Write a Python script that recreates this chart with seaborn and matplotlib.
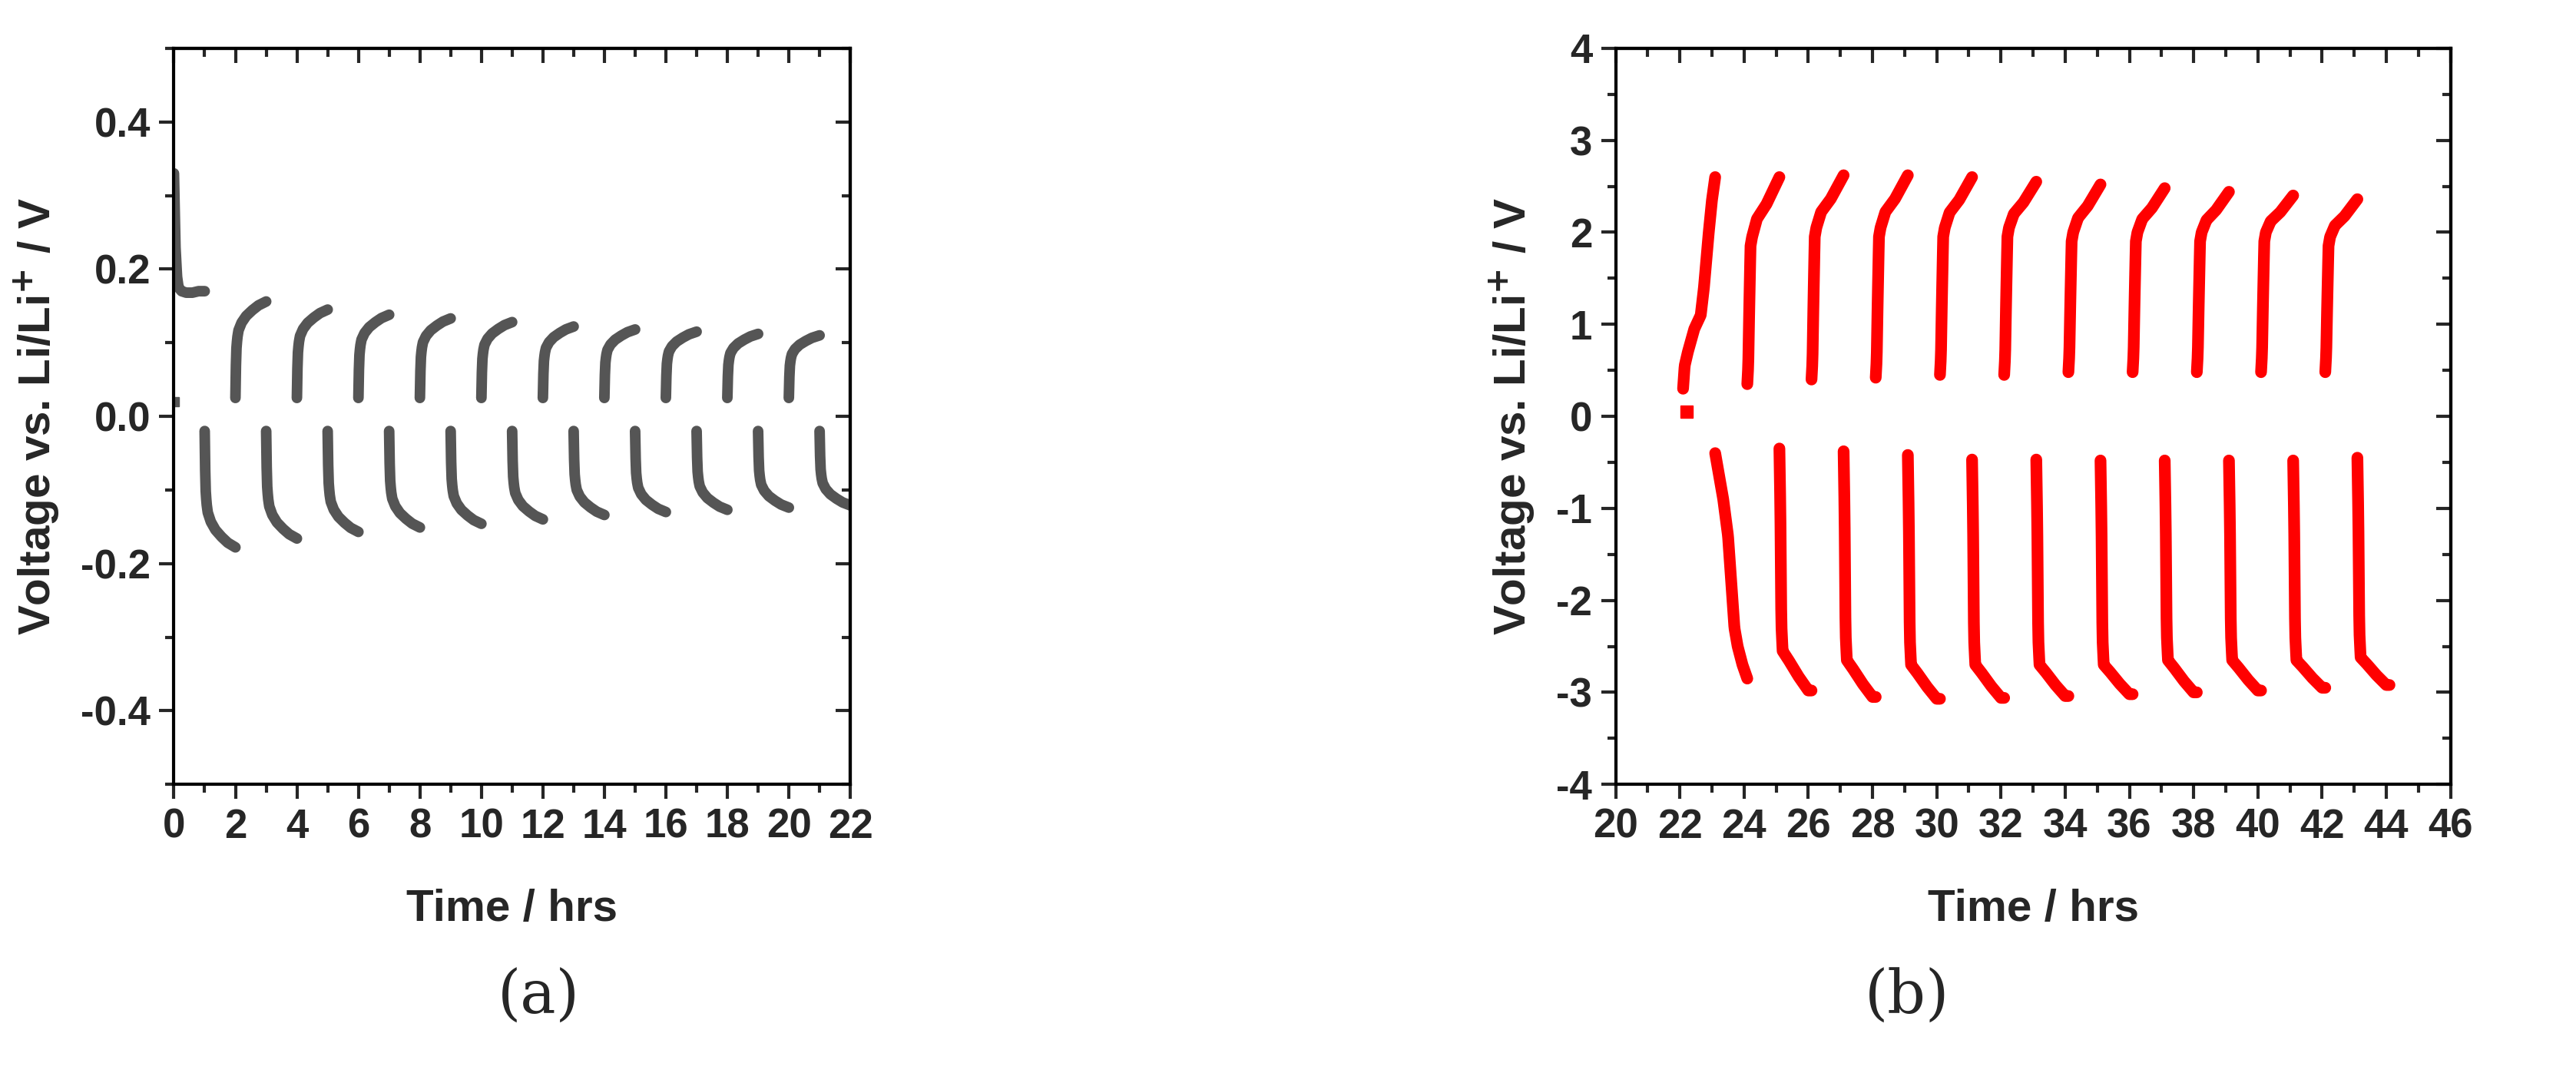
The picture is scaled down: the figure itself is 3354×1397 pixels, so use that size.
import numpy as np
import pandas as pd
import matplotlib
matplotlib.use("Agg")
import matplotlib.pyplot as plt
import seaborn as sns
from matplotlib.ticker import MultipleLocator, NullFormatter

sns.set_theme(style="ticks")
plt.rcParams['font.family'] = ['Liberation Sans', 'DejaVu Sans']

# ---------- panel (a) data ----------
a_init_t = [0.0, 0.02, 0.05, 0.1, 0.15, 0.25, 0.4, 0.6, 0.8, 1.0]
a_init_v = [0.33, 0.29, 0.23, 0.19, 0.175, 0.17, 0.168, 0.168, 0.17, 0.17]
a_prof_t = [0.0, 0.01, 0.03, 0.06, 0.1, 0.2, 0.35, 0.55, 0.75, 1.0]
a_prof_f = [0.0, 0.25, 0.5, 0.62, 0.7, 0.78, 0.85, 0.91, 0.96, 1.0]
a_neg_start_t = [1, 3, 5, 7, 9, 11, 13, 15, 17, 19, 21]
a_neg_v0 = [-0.02] * 11
a_neg_v1 = [-0.178, -0.166, -0.157, -0.151, -0.146, -0.140, -0.134, -0.130, -0.127, -0.124, -0.121]
a_pos_start_t = [2, 4, 6, 8, 10, 12, 14, 16, 18, 20]
a_pos_v0 = [0.025] * 10
a_pos_v1 = [0.156, 0.145, 0.138, 0.133, 0.128, 0.122, 0.118, 0.115, 0.112, 0.110]

# ---------- panel (b) data ----------
b_pos_start_t = [22.1, 24.1, 26.1, 28.1, 30.1, 32.1, 34.1, 36.1, 38.1, 40.1, 42.1]
b_pos_first_t = [0.0, 0.05, 0.15, 0.35, 0.55, 0.65, 0.8, 0.9, 1.0]
b_pos_first_v = [0.3, 0.55, 0.7, 0.95, 1.1, 1.4, 2.0, 2.35, 2.6]
b_pos_t = [0.0, 0.03, 0.06, 0.1, 0.15, 0.3, 0.6, 1.0]
b_pos_v0 = [0.3, 0.35, 0.4, 0.42, 0.45, 0.45, 0.48, 0.48, 0.48, 0.48, 0.48]
b_pos_v1 = [2.6, 2.6, 2.62, 2.62, 2.6, 2.55, 2.52, 2.48, 2.44, 2.4, 2.36]
b_pos_knee = [2.0, 1.95, 2.05, 2.05, 2.05, 2.05, 2.0, 2.0, 2.0, 2.0, 1.95]
b_neg_start_t = [23.1, 25.1, 27.1, 29.1, 31.1, 33.1, 35.1, 37.1, 39.1, 41.1, 43.1]
b_neg_first_t = [0.0, 0.1, 0.25, 0.4, 0.5, 0.6, 0.7, 0.85, 1.0]
b_neg_first_v = [-0.4, -0.6, -0.9, -1.3, -1.8, -2.3, -2.5, -2.7, -2.85]
b_neg_v0 = [-0.4, -0.35, -0.38, -0.42, -0.47, -0.47, -0.48, -0.48, -0.48, -0.48, -0.45]
b_neg_knee = [-2.4, -2.55, -2.65, -2.7, -2.7, -2.7, -2.7, -2.65, -2.65, -2.65, -2.62]
b_neg_v1 = [-2.85, -2.98, -3.05, -3.07, -3.06, -3.04, -3.02, -3.0, -2.98, -2.95, -2.92]
b_neg_t = [0.0, 0.03, 0.06, 0.1, 0.3, 0.6, 0.9, 1.0]

def dense(t, v, n=60):
    tt = np.linspace(t[0], t[-1], n)
    return tt, np.interp(tt, t, v)

rows_a = []
tt, vv = dense(a_init_t, a_init_v)
rows_a += [("init", x, y) for x, y in zip(tt, vv)]
for k, (s, v0, v1) in enumerate(zip(a_neg_start_t, a_neg_v0, a_neg_v1)):
    vals = [v0 + f * (v1 - v0) for f in a_prof_f]
    tt, vv = dense([s + p for p in a_prof_t], vals)
    rows_a += [(f"n{k}", x, y) for x, y in zip(tt, vv)]
for k, (s, v0, v1) in enumerate(zip(a_pos_start_t, a_pos_v0, a_pos_v1)):
    vals = [v0 + f * (v1 - v0) for f in a_prof_f]
    tt, vv = dense([s + p for p in a_prof_t], vals)
    rows_a += [(f"p{k}", x, y) for x, y in zip(tt, vv)]
dfa = pd.DataFrame(rows_a, columns=["seg", "t", "v"])

rows_b = []
for k, s in enumerate(b_pos_start_t):
    if k == 0:
        t, v = [s + p for p in b_pos_first_t], b_pos_first_v
    else:
        v0, kn, v1 = b_pos_v0[k], b_pos_knee[k], b_pos_v1[k]
        v = [v0, v0 + 0.2, v0 + 0.5 * (kn - v0), kn - 0.1, kn, kn + 0.15 * (v1 - kn) / 0.5,
             kn + 0.55 * (v1 - kn), v1]
        t = [s + p for p in b_pos_t]
    tt, vv = dense(t, v, 90)
    rows_b += [(f"p{k}", x, y) for x, y in zip(tt, vv)]
for k, s in enumerate(b_neg_start_t):
    if k == 0:
        t, v = [s + p for p in b_neg_first_t], b_neg_first_v
    else:
        v0, kn, v1 = b_neg_v0[k], b_neg_knee[k], b_neg_v1[k]
        v = [v0, v0 - 0.5 * (v0 - kn) * 0.6, kn + 0.3, kn, kn - 0.25 * (kn - v1),
             kn - 0.65 * (kn - v1), v1, v1]
        t = [s + p for p in b_neg_t]
    tt, vv = dense(t, v, 90)
    rows_b += [(f"n{k}", x, y) for x, y in zip(tt, vv)]
dfb = pd.DataFrame(rows_b, columns=["seg", "t", "v"])

fig = plt.figure(figsize=(33.55, 13.97), dpi=100)
ax1 = fig.add_axes([0.0675, 0.269, 0.2625, 0.686])
ax2 = fig.add_axes([0.627, 0.269, 0.324, 0.686])

grey = "#555555"
red = "#ff0000"
for seg, g in dfa.groupby("seg"):
    sns.lineplot(data=g, x="t", y="v", ax=ax1, color=grey, lw=10, sort=False, estimator=None)
ax1.plot([0.02], [0.02], "s", color=grey, ms=8)
for seg, g in dfb.groupby("seg"):
    sns.lineplot(data=g, x="t", y="v", ax=ax2, color=red, lw=11, sort=False, estimator=None)
ax2.plot([22.2], [0.05], "s", color=red, ms=11)

def style(ax, xlim, ylim, xmaj, ymaj, ymin, xmin, yfmt):
    ax.set_xlim(*xlim); ax.set_ylim(*ylim)
    ax.xaxis.set_major_locator(MultipleLocator(xmaj)); ax.xaxis.set_minor_locator(MultipleLocator(xmin))
    ax.yaxis.set_major_locator(MultipleLocator(ymaj))
    ax.yaxis.set_minor_locator(MultipleLocator(ymin))
    ax.yaxis.set_major_formatter(yfmt)
    ax.tick_params(which="both", direction="out", width=3, labelsize=38, pad=8)
    ax.tick_params(which="major", length=14)
    ax.tick_params(which="minor", length=8)
    for lab in ax.get_xticklabels() + ax.get_yticklabels():
        lab.set_fontweight("bold")
    for sp in ax.spines.values():
        sp.set_linewidth(3); sp.set_color("black")
    ax.set_xlabel("Time / hrs", fontsize=42, fontweight="bold", labelpad=40)
    ax.set_ylabel("Voltage vs. Li/Li$^{\\mathbf{+}}$ / V", fontsize=42, fontweight="bold", labelpad=18)
    top = ax.secondary_xaxis("top")
    top.xaxis.set_major_locator(MultipleLocator(xmaj)); top.xaxis.set_minor_locator(MultipleLocator(xmin))
    top.xaxis.set_major_formatter(NullFormatter())
    top.tick_params(which="both", direction="in", width=3)
    top.tick_params(which="major", length=14); top.tick_params(which="minor", length=8)
    top.spines["top"].set_linewidth(3)
    rt = ax.secondary_yaxis("right")
    rt.yaxis.set_major_locator(MultipleLocator(ymaj)); rt.yaxis.set_minor_locator(MultipleLocator(ymin))
    rt.yaxis.set_major_formatter(NullFormatter())
    rt.tick_params(which="both", direction="in", width=3)
    rt.tick_params(which="major", length=14); rt.tick_params(which="minor", length=8)
    rt.spines["right"].set_linewidth(3)

style(ax1, (0, 22), (-0.5, 0.5), 2, 0.2, 0.1, 1, lambda v, p: f"{v:.1f}")
style(ax2, (20, 46), (-4, 4), 2, 1, 0.5, 1, lambda v, p: f"{v:.0f}")

fig.text(0.209, 0.055, "(a)", fontsize=56, family="DejaVu Serif", ha="center")
fig.text(0.74, 0.055, "(b)", fontsize=56, family="DejaVu Serif", ha="center")
fig.savefig("out.png", dpi=100, facecolor="white")
